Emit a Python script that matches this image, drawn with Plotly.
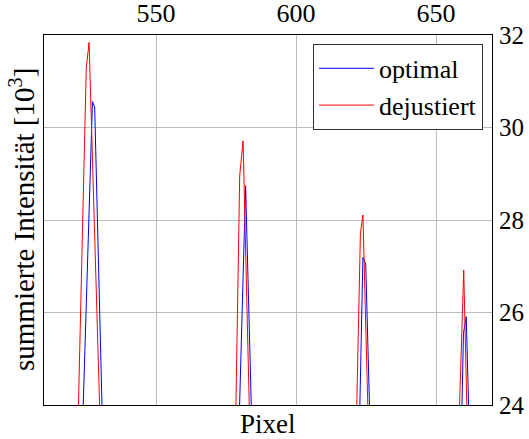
import plotly.graph_objects as go

# Data (pixel vs. summed intensity in 10^3)
optimal_x = [522.0, 527.3, 528.1, 532.0,
             578.0, 582.0, 586.0,
             621.0, 623.9, 624.9, 629.0,
             657.0, 659.8, 660.8, 664.0]
optimal_y = [20.0, 30.56, 30.44, 20.8,
             19.9, 28.74, 19.4,
             18.7, 27.19, 27.05, 17.7,
             17.0, 25.55, 25.91, 18.6]

dejustiert_x = [521.0, 525.1, 526.1, 531.0,
                577.0, 579.9, 581.1, 585.0,
                620.0, 623.0, 623.9, 628.0,
                656.0, 659.9, 663.0]
dejustiert_y = [20.6, 31.29, 31.84, 21.6,
                18.3, 28.97, 29.71, 19.6,
                19.1, 27.71, 28.11, 18.4,
                19.2, 26.92, 18.7]

x_ticks = [550, 600, 650]
y_ticks = [24, 26, 28, 30, 32]

FONT = "Liberation Serif"

fig = go.Figure()
fig.add_trace(go.Scatter(x=optimal_x, y=optimal_y, mode="lines", name="optimal",
                         line=dict(color="#0000ff", width=1)))
fig.add_trace(go.Scatter(x=dejustiert_x, y=dejustiert_y, mode="lines", name="dejustiert",
                         line=dict(color="#ff0000", width=1)))

fig.update_layout(
    width=529, height=439,
    margin=dict(l=44, r=37, t=35, b=34),
    paper_bgcolor="white", plot_bgcolor="white",
    font=dict(family=FONT, size=26, color="black"),
    xaxis=dict(side="top", range=[510, 670], tickvals=x_ticks, automargin=False,
               showgrid=True, gridcolor="#bdbdbd", gridwidth=1,
               showline=True, linecolor="black", linewidth=1, mirror=True,
               ticks="", zeroline=False, tickfont=dict(size=26),
               ticklabelstandoff=2),
    yaxis=dict(side="right", range=[24, 32], tickvals=y_ticks, automargin=False,
               showgrid=True, gridcolor="#bdbdbd", gridwidth=1,
               showline=True, linecolor="black", linewidth=1, mirror=True,
               ticks="", zeroline=False, tickfont=dict(size=25),
               ticklabelstandoff=1),
    legend=dict(x=0.98, y=0.976, xanchor="right", yanchor="top",
                bgcolor="white", bordercolor="#333333", borderwidth=1,
                itemwidth=55,
                font=dict(family=FONT, size=26), tracegroupgap=0),
    showlegend=True,
    annotations=[
        dict(text="Pixel", xref="paper", yref="paper", x=0.5, y=0,
             yshift=-2, xanchor="center", yanchor="top", showarrow=False,
             font=dict(family=FONT, size=27)),
        dict(text="summierte Intensität [10<sup>3</sup>]", xref="paper", yref="paper",
             x=0, y=0.5, xshift=-2, xanchor="right", yanchor="middle",
             textangle=-90, showarrow=False, font=dict(family=FONT, size=29)),
    ],
)

fig.write_html("out.html")
